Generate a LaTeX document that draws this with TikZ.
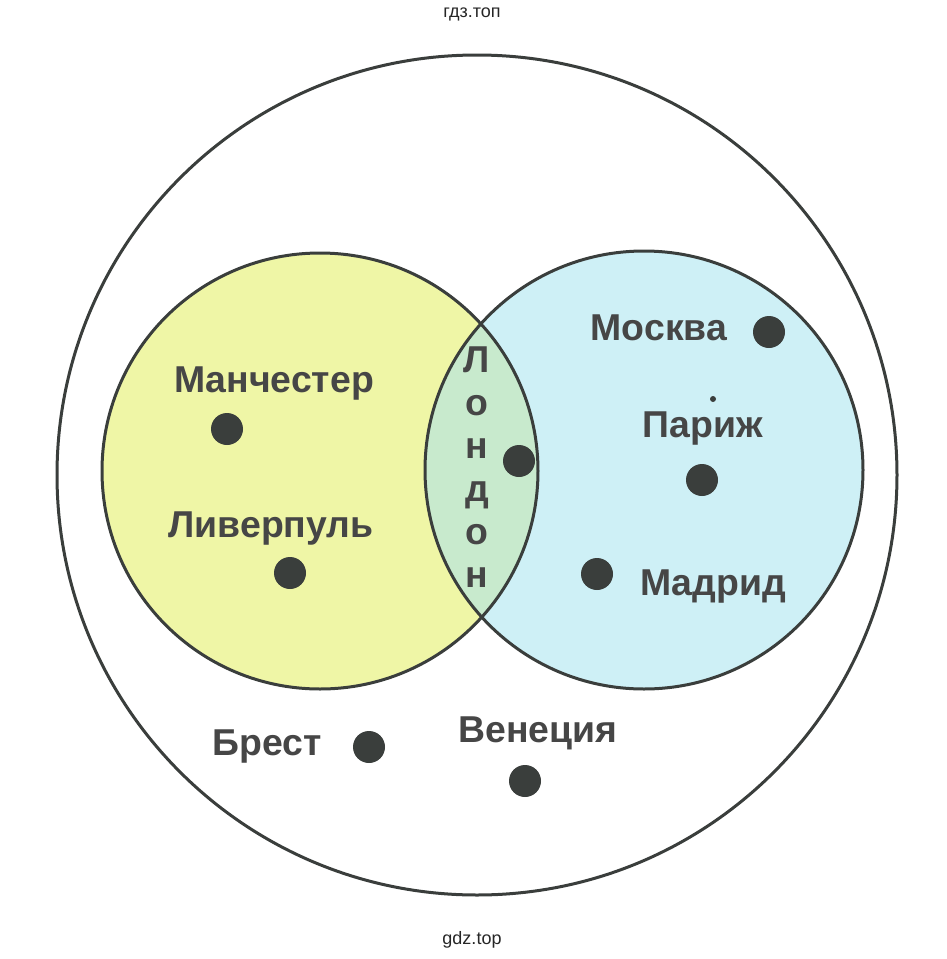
\documentclass[tikz,border=0pt]{standalone}
\usepackage{fontspec}
\setmainfont{Liberation Sans}
\usepackage{xcolor}
\usetikzlibrary{positioning}

\definecolor{ringgray}{RGB}{58,62,60}
\definecolor{textgray}{RGB}{70,70,70}
\definecolor{yellowfill}{RGB}{239,246,166}
\definecolor{bluefill}{RGB}{206,240,246}
\definecolor{lensfill}{RGB}{200,234,205}

\begin{document}
\begin{tikzpicture}[x=0.5pt,y=-0.5pt,
    ring/.style={draw=ringgray,line width=1.5pt},
    city/.style={text=textgray,font=\fontsize{18.7}{21}\selectfont\bfseries,inner sep=0pt,anchor=base},
    dot/.style={circle,fill=ringgray,draw=none,minimum size=16pt,inner sep=0pt},
    watermark/.style={text=black!85,font=\fontsize{9}{11}\selectfont,inner sep=0pt}]
  \useasboundingbox (0,0) rectangle (947,959);

  % sets
  \fill[yellowfill] (320,471) circle[radius=218];
  \fill[bluefill] (644,470) circle[radius=219];
  \begin{scope}
    \clip (320,471) circle[radius=218];
    \fill[lensfill] (644,470) circle[radius=219];
  \end{scope}
  \draw[ring] (477,475) circle[radius=420];
  \draw[ring] (320,471) circle[radius=218];
  \draw[ring] (644,470) circle[radius=219];

  % labels
  \node[city] (manchester) at (274,392) {Манчестер};
  \node[city] (liverpool) at (271,537) {Ливерпуль};
  \node[city] (moscow) at (659,340) {Москва};
  \node[city] (paris) at (703,437) {Париж};
  \node[city] (madrid) at (713,595) {Мадрид};
  \node[city] (brest) at (267,755) {Брест};
  \node[city] (venice) at (538,742) {Венеция};
  \foreach \ch [count=\i] in {Л,о,н,д,о,н}
    \node[city] (london\i) at (477,329+43*\i) {\ch};

  % points
  \node[dot] (pManchester) at (227,429) {};
  \node[dot] (pLiverpool) at (290,573) {};
  \node[dot] (pLondon) at (519,461) {};
  \node[dot] (pMoscow) at (769,332) {};
  \node[dot] (pParis) at (702,480) {};
  \node[dot] (pMadrid) at (597,574) {};
  \node[dot] (pBrest) at (369,747) {};
  \node[dot] (pVenice) at (525,781) {};
  \node[circle,fill=ringgray,minimum size=3pt,inner sep=0pt] (speck) at (713,399) {};

  % watermarks
  \node[watermark] (head) at (472,14) {гдз.топ};
  \node[watermark] (foot) at (472,940) {gdz.top};
\end{tikzpicture}
\end{document}
